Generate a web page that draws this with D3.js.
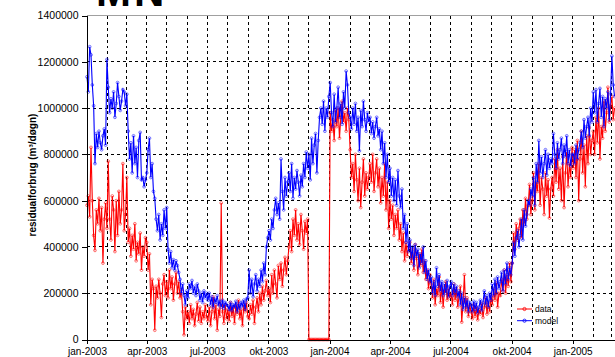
<!DOCTYPE html>
<html>
<head>
<meta charset="utf-8">
<script src="https://cdn.jsdelivr.net/npm/d3@7"></script>
<style>
  html, body { margin: 0; padding: 0; background: #fff; }
  svg { display: block; font-family: "Liberation Sans", Arial, sans-serif; }
</style>
</head>
<body>
<svg id="chart" width="615" height="357"></svg>
<script>
// Residual consumption, one reading every second day from 1 Jan 2003,
// in thousand m³ per døgn. One line per month.
const firstDay = "2003-01-01";
const stepDays = 2;

const data2003 = [
  580, 620, 530, 830, 600, 450, 385, 560, 500, 610, 470, 570, 330, 520, 590, 480,
  770, 520, 430, 620, 560, 380, 600, 450, 640, 500, 560, 760, 470, 540,
  700, 420, 480, 360, 450, 390, 500, 340, 420, 370, 460, 300, 400, 360, 440,
  420, 300, 370, 150, 260, 220, 40, 230, 180, 260, 200, 95, 240, 280, 190,
  250, 180, 300, 220, 270, 170, 240, 290, 200, 250, 180, 215, 120, 20, 140, 90,
  120, 70, 150, 90, 130, 60, 110, 160, 80, 140, 70, 120, 90, 150, 100,
  80, 140, 60, 120, 185, 90, 150, 40, 130, 100, 590, 120, 70, 150, 90,
  130, 80, 160, 100, 140, 70, 150, 110, 170, 90, 130, 60, 150, 120, 160, 100,
  90, 150, 110, 170, 70, 140, 180, 120, 200, 150, 230, 170, 210, 255, 190,
  220, 160, 280, 200, 300, 240, 180, 320, 260, 330, 230, 300, 355, 280, 340,
  400, 470, 380, 520, 450, 560, 430, 500, 410, 540, 470, 390, 510, 460, 520,
  0, 0, 0, 0, 0, 0, 0, 0, 0, 0, 0, 0, 0, 0, 0, 0
];
const data2004 = [
  980, 900, 950, 860, 990, 920, 1000, 870, 960, 1030, 940, 980, 900, 1000, 950,
  820, 700, 760, 640, 800, 690, 600, 740, 570, 680, 780, 620, 720, 650, 700,
  760, 680, 800, 640, 720, 780, 660, 740, 590, 700, 620, 760, 560, 680, 480,
  600, 520, 580, 450, 540, 480, 560, 430, 500, 380, 460, 340, 420, 360, 400,
  420, 330, 390, 300, 410, 350, 280, 370, 320, 390, 290, 340, 260, 300, 220, 280,
  240, 180, 260, 150, 220, 190, 270, 160, 230, 140, 210, 250, 170, 220, 180,
  200, 150, 240, 170, 220, 140, 190, 230, 75, 160, 280, 120, 180, 100, 150,
  120, 90, 150, 100, 140, 85, 130, 110, 155, 95, 140, 180, 110, 160, 120, 185,
  150, 220, 170, 245, 140, 200, 190, 260, 210, 300, 200, 280, 230, 330, 250,
  330, 460, 390, 500, 430, 480, 520, 440, 560, 500, 610, 520, 580, 670, 540,
  600, 720, 560, 680, 640, 760, 580, 700, 650, 540, 720, 620, 690, 525, 650,
  700, 620, 780, 680, 820, 650, 740, 600, 790, 570, 720, 810, 660, 760, 700, 830
];
const data2005 = [
  740, 820, 700, 860, 600, 780, 900, 720, 840, 660, 880, 760, 915, 800, 860,
  900, 800, 960, 850, 1000, 780, 920, 870, 1030, 900, 980, 1090, 940, 1010,
  1050, 950, 1000
];

const model2003 = [
  1135, 1070, 1265, 1230, 1100, 1010, 760, 890, 830, 900, 850, 820, 880, 910, 840, 1210,
  1090, 980, 1040, 1000, 1070, 960, 1020, 1110, 1050, 990, 1030, 1080, 1070, 1010,
  1060, 900, 780, 850, 720, 880, 760, 830, 700, 860, 895, 690, 700, 660, 690,
  720, 820, 870, 700, 760, 640, 610, 520, 470, 540, 430, 500, 450, 560, 480,
  570, 390, 330, 380, 310, 345, 300, 340, 320, 290, 260, 200, 240, 190, 150, 210,
  180, 240, 220, 255, 200, 230, 190, 240, 210, 170, 200, 160, 210, 180, 200,
  170, 200, 150, 185, 140, 175, 160, 190, 150, 165, 140, 170, 135, 160, 150,
  145, 130, 160, 125, 150, 140, 165, 120, 155, 135, 160, 145, 170, 130, 175, 180,
  300, 200, 260, 185, 240, 280, 210, 260, 230, 300, 250, 330, 280, 400, 440,
  470, 430, 520, 480, 560, 610, 540, 590, 520, 780, 640, 560, 700, 620, 680,
  720, 640, 760, 610, 700, 650, 730, 680, 620, 710, 660, 760, 700, 810, 740,
  800, 690, 870, 760, 840, 890, 720, 860, 960, 1000, 930, 1030, 900, 1000, 960, 1050
];
const model2004 = [
  1110, 980, 920, 1060, 940, 1000, 1090, 960, 1020, 930, 1070, 1000, 1160, 1100, 980,
  960, 910, 1000, 930, 1020, 900, 960, 815, 990, 920, 1030, 950, 900, 980, 940,
  960, 890, 940, 870, 920, 960, 880, 910, 820, 900, 760, 850, 700, 800, 680,
  740, 620, 700, 600, 690, 580, 730, 620, 570, 650, 480, 540, 420, 500, 380,
  430, 350, 400, 320, 410, 360, 390, 310, 370, 330, 400, 290, 340, 260, 300, 250,
  270, 200, 250, 190, 310, 230, 280, 210, 250, 190, 240, 200, 255, 185, 230,
  250, 190, 240, 200, 230, 185, 210, 150, 200, 130, 180, 140, 170, 120, 160,
  150, 120, 165, 130, 160, 115, 140, 170, 125, 160, 210, 150, 190, 140, 200, 170,
  240, 190, 260, 200, 270, 220, 250, 290, 210, 300, 240, 330, 260, 310, 280,
  330, 420, 360, 440, 470, 400, 450, 520, 430, 560, 490, 540, 600, 580, 650,
  620, 700, 580, 760, 680, 860, 720, 790, 700, 760, 820, 710, 800, 740, 780,
  760, 890, 800, 740, 850, 780, 820, 870, 760, 840, 790, 880, 760, 820, 750, 800
];
const model2005 = [
  800, 760, 840, 780, 820, 850, 900, 830, 950, 870, 920, 960, 880, 1000, 940,
  1070, 980, 1080, 940, 1020, 1085, 960, 1050, 920, 1040, 1000, 1070, 950, 1060,
  1225, 1100, 1050
];

const yTicks = [0, 200000, 400000, 600000, 800000, 1000000, 1200000, 1400000];
const xTickDates = ["2003-01-01", "2003-04-01", "2003-07-01", "2003-10-01", "2004-01-01",
                    "2004-04-01", "2004-07-01", "2004-10-01", "2005-01-01"];
const xTickLabels = ["jan-2003", "apr-2003", "jul-2003", "okt-2003", "jan-2004",
                     "apr-2004", "jul-2004", "okt-2004", "jan-2005"];
const seriesNames = ["data", "model"];
const seriesColors = ["#ff0000", "#0000ff"];

const parse = d3.timeParse("%Y-%m-%d");
const start = parse(firstDay);
const toPoints = vals => vals.map((v, i) => ({ date: d3.timeDay.offset(start, i * stepDays), value: v * 1000 }));
const series = [
  toPoints(data2003.concat(data2004, data2005)),
  toPoints(model2003.concat(model2004, model2005))
];

const svg = d3.select("#chart");
const x = d3.scaleTime().domain([parse("2003-01-01"), parse("2005-04-01")]).range([87, 632.5]);
const y = d3.scaleLinear().domain([0, 1400000]).range([339.5, 15.5]);
const xRight = 615;

// title (its top runs past the upper edge)
svg.append("text").attr("x", 96).attr("y", 6)
  .attr("font-size", 42).attr("font-weight", "bold").attr("letter-spacing", 3)
  .text("MN");

// grid: monthly verticals, 200 000 horizontals
const grid = svg.append("g").attr("shape-rendering", "crispEdges")
  .attr("stroke", "#000").attr("stroke-width", 1).attr("stroke-dasharray", "3,3");
grid.selectAll("line.v").data(d3.timeMonth.range(parse("2003-02-01"), parse("2005-04-01")))
  .join("line").attr("class", "v")
  .attr("x1", d => x(d)).attr("x2", d => x(d)).attr("y1", y(1400000)).attr("y2", y(0));
grid.selectAll("line.h").data(yTicks.filter(t => t > 0 && t < 1400000))
  .join("line").attr("class", "h")
  .attr("x1", x.range()[0]).attr("x2", xRight).attr("y1", d => y(d)).attr("y2", d => y(d));
svg.append("line").attr("shape-rendering", "crispEdges")
  .attr("x1", x.range()[0]).attr("x2", xRight).attr("y1", y(1400000)).attr("y2", y(1400000))
  .attr("stroke", "#a0a0a0");

// series: line plus a small marker on every reading
const line = d3.line().x(d => x(d.date)).y(d => y(d.value));
series.forEach((pts, k) => {
  const g = svg.append("g");
  g.append("path").datum(pts).attr("d", line)
    .attr("fill", "none").attr("stroke", seriesColors[k]).attr("stroke-width", 1.1);
  g.selectAll("circle").data(pts).join("circle")
    .attr("cx", d => x(d.date)).attr("cy", d => y(d.value)).attr("r", 1.4)
    .attr("fill", "none").attr("stroke", seriesColors[k]).attr("stroke-width", 0.7)
    .attr("stroke-opacity", 0.75);
});

// axes
const yAxis = svg.append("g").attr("transform", `translate(${x.range()[0] - 0.5},0)`)
  .call(d3.axisLeft(y).tickValues(yTicks).tickFormat(d3.format("d")).tickSize(5).tickPadding(3));
const xAxis = svg.append("g").attr("transform", `translate(0,${y(0)})`)
  .call(d3.axisBottom(x).tickValues(xTickDates.map(parse))
    .tickFormat((d, i) => xTickLabels[i]).tickSize(4).tickPadding(4).tickSizeOuter(0));
xAxis.select(".domain").attr("d", `M${x.range()[0]},0.5H${xRight}`);
[yAxis, xAxis].forEach(a => {
  a.attr("font-family", null).attr("shape-rendering", "crispEdges");
  a.selectAll("text").attr("font-size", 10).attr("fill", "#000");
  a.selectAll("line, path").attr("stroke", "#000");
});
yAxis.selectAll("text").attr("font-size", 10.5);
xAxis.selectAll("text").attr("dy", "0.71em");

// axis title
svg.append("text")
  .attr("transform", "translate(36,175) rotate(-90)")
  .attr("text-anchor", "middle").attr("font-size", 10).attr("font-weight", "bold")
  .text("residualforbrug (m³/døgn)");

// legend
const legend = svg.append("g");
seriesNames.forEach((name, k) => {
  const ly = 309 + k * 11.7;
  legend.append("line").attr("x1", 517).attr("x2", 532).attr("y1", ly).attr("y2", ly)
    .attr("stroke", seriesColors[k]).attr("stroke-width", 1);
  legend.append("circle").attr("cx", 524.5).attr("cy", ly).attr("r", 1.6)
    .attr("fill", "none").attr("stroke", seriesColors[k]).attr("stroke-width", 0.8);
  legend.append("text").attr("x", 535).attr("y", ly).attr("dy", "0.35em")
    .attr("font-size", 8.5).text(name);
});
</script>
</body>
</html>
